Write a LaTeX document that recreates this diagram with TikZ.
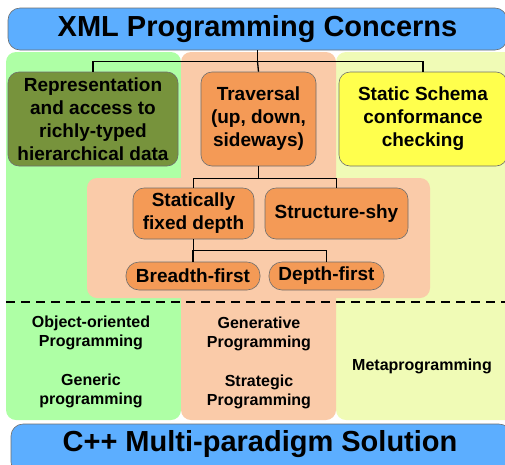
\documentclass[tikz,border=0pt]{standalone}
\usepackage{fontspec}
\setmainfont{Liberation Sans}
\definecolor{titleblue}{HTML}{5CAEFF}
\definecolor{bggreen}{HTML}{AEFFA5}
\definecolor{bgorange}{HTML}{FACBA9}
\definecolor{bgyellow}{HTML}{F0FBB6}
\definecolor{olive}{HTML}{77933C}
\definecolor{nodeorange}{HTML}{F49A56}
\definecolor{nodeyellow}{HTML}{FFFF4D}
\definecolor{edgegray}{HTML}{6E6E6E}
\tikzset{
  bigbox/.style={draw=edgegray, line width=0.6pt, fill=titleblue, rounded corners=12pt, inner sep=0pt, font=\fontsize{29}{32}\selectfont\bfseries},
  bg/.style={rounded corners=10pt},
  conc/.style={draw=edgegray, line width=0.6pt, rounded corners=11pt, inner sep=0pt, align=center, font=\fontsize{19}{23}\selectfont\bfseries},
  para/.style={align=center, font=\fontsize{16}{19}\selectfont\bfseries},
  conn/.style={draw=black, line width=1.3pt}
}
\begin{document}
\begin{tikzpicture}[x=1pt,y=-1pt]
\useasboundingbox (0,0) rectangle (505,464);
% background columns
\fill[bggreen,bg] (6,52) rectangle (181,420);
\fill[bgyellow,bg] (336,52) rectangle (520,420);
\fill[bgorange,bg] (181,52) rectangle (336,420);
\fill[bgorange,bg] (87,178) rectangle (430,298);
% title
\node[bigbox, minimum width=499pt, minimum height=42pt] (title) at (257.5,29) {XML Programming Concerns};
% concerns
\node[conc, fill=olive, minimum width=170pt, minimum height=94pt] (rep) at (93,119) {Representation\\and access to\\richly-typed\\hierarchical data};
\node[conc, fill=nodeorange, minimum width=115pt, minimum height=94pt] (trav) at (258.5,119) {Traversal\\(up, down,\\sideways)};
\node[conc, fill=nodeyellow, minimum width=168pt, minimum height=94pt] (stat) at (423,119) {Static Schema\\conformance\\checking};
\node[conc, fill=nodeorange, minimum width=121pt, minimum height=51pt] (fixed) at (193.5,213.5) {Statically\\fixed depth};
\node[conc, fill=nodeorange, minimum width=143pt, minimum height=51pt] (shy) at (336.5,213.5) {Structure-shy};
\node[conc, fill=nodeorange, minimum width=134pt, minimum height=28pt, rounded corners=13pt] (bfs) at (193,276) {Breadth-first};
\node[conc, fill=nodeorange, minimum width=115pt, minimum height=28pt, rounded corners=13pt] (dfs) at (326.5,276) {Depth-first};
% connectors
\coordinate (j1) at ([yshift=-11pt]title.south);
\draw[conn] (title.south) -- (j1);
\draw[conn] (rep.north) |- (j1) -| (stat.north);
\draw[conn] (j1) -- (trav.north);
\coordinate (j2) at ([yshift=-12pt]trav.south);
\draw[conn] (trav.south) -- (j2);
\draw[conn] (fixed.north) |- (j2) -| (shy.north);
\coordinate (j3) at ([yshift=-11pt]fixed.south);
\draw[conn] (fixed.south) -- (j3);
\draw[conn] (bfs.north) |- (j3) -| (dfs.north);
% dashed separator
\coordinate (d1) at (6,302);
\coordinate (d2) at (505,302);
\draw[line width=1.3pt, dash pattern=on 9pt off 6pt] (d1) -- (d2);
% paradigms
\node[para] (oop) at (91,333) {Object-oriented\\Programming};
\node[para] (gen) at (91,391) {Generic\\programming};
\node[para] (genp) at (259,334) {Generative\\Programming};
\node[para] (strat) at (259,392) {Strategic\\Programming};
\node[para] (meta) at (422,366) {Metaprogramming};
% bottom
\node[bigbox, minimum width=500pt, minimum height=50pt] (cpp) at (261,449) {};
\node[font=\fontsize{29}{32}\selectfont\bfseries, inner sep=0pt] (cpptext) at (260,444) {C++ Multi-paradigm Solution};
\end{tikzpicture}
\end{document}
